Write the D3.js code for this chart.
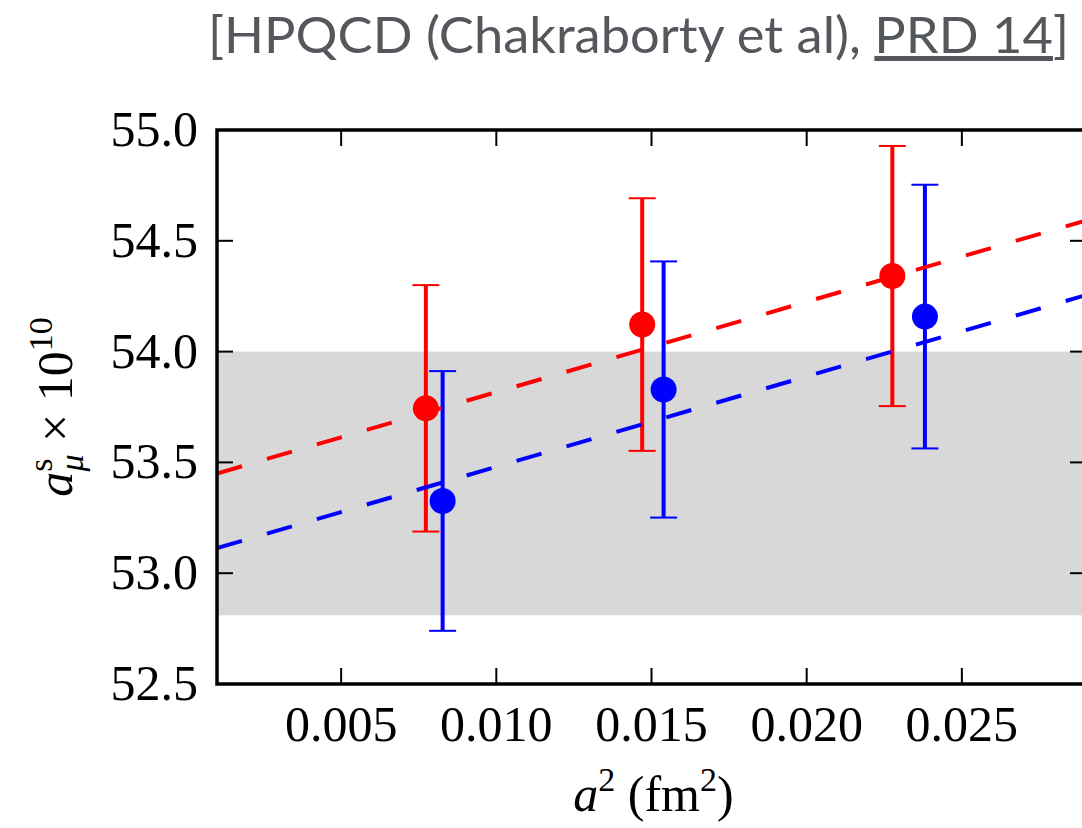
<!DOCTYPE html>
<html>
<head>
<meta charset="utf-8">
<script src="https://cdn.jsdelivr.net/npm/d3@7"></script>
<style>
  html, body { margin: 0; padding: 0; background: #fff; }
  svg { display: block; }
  .tick-label { font-family: "Liberation Serif", "DejaVu Serif", serif; font-size: 50px; fill: #000; }
</style>
</head>
<body>
<div id="chart"></div>
<script>
// ---------------------------------------------------------------------------
// data
// ---------------------------------------------------------------------------
const xTicks = [0.005, 0.010, 0.015, 0.020, 0.025];
const yTicks = [52.5, 53.0, 53.5, 54.0, 54.5, 55.0];

// red series (a2, value, error)
const redA2 = [0.00773, 0.0147, 0.02276];
const redVal = [53.744, 54.122, 54.341];
const redErr = [0.556, 0.570, 0.587];

// blue series
const blueA2 = [0.00827, 0.01539, 0.02381];
const blueVal = [53.326, 53.829, 54.158];
const blueErr = [0.586, 0.578, 0.595];

// dashed fits, endpoints
const redFitA2 = [0.001, 0.029];
const redFitVal = [53.450, 54.592];
const blueFitA2 = [0.001, 0.029];
const blueFitVal = [53.113, 54.255];

// grey band
const bandRange = [52.81, 54.0];

// ---------------------------------------------------------------------------
const width = 1082, height = 828;
const m = { left: 217, right: 1086, top: 130, bottom: 684 };

const svg = d3.select("#chart").append("svg")
    .attr("width", width)
    .attr("height", height);

const x = d3.scaleLinear().domain([0.001, 0.029]).range([m.left, m.right]);
const y = d3.scaleLinear().domain([52.5, 55.0]).range([m.bottom, m.top]);

svg.append("defs").append("clipPath").attr("id", "plot-clip")
    .append("rect")
    .attr("x", m.left).attr("y", m.top)
    .attr("width", m.right - m.left).attr("height", m.bottom - m.top);

const plot = svg.append("g").attr("clip-path", "url(#plot-clip)");

// band
plot.append("rect")
    .attr("x", m.left)
    .attr("width", m.right - m.left)
    .attr("y", y(bandRange[1]))
    .attr("height", y(bandRange[0]) - y(bandRange[1]))
    .attr("fill", "#d8d8d8");

// error bars + points
function drawSeries(a2, val, err, color) {
    const g = plot.append("g");
    const pts = a2.map((d, i) => ({ a: d, v: val[i], e: err[i] }));
    g.selectAll("line.bar").data(pts).join("line")
        .attr("class", "bar")
        .attr("x1", d => x(d.a)).attr("x2", d => x(d.a))
        .attr("y1", d => y(d.v - d.e)).attr("y2", d => y(d.v + d.e))
        .attr("stroke", color).attr("stroke-width", 4);
    ["lo", "hi"].forEach(k => {
        g.selectAll("line.cap-" + k).data(pts).join("line")
            .attr("class", "cap-" + k)
            .attr("x1", d => x(d.a) - 13.5).attr("x2", d => x(d.a) + 13.5)
            .attr("y1", d => y(k === "lo" ? d.v - d.e : d.v + d.e))
            .attr("y2", d => y(k === "lo" ? d.v - d.e : d.v + d.e))
            .attr("stroke", color).attr("stroke-width", 2);
    });
    g.selectAll("circle").data(pts).join("circle")
        .attr("cx", d => x(d.a)).attr("cy", d => y(d.v))
        .attr("r", 13)
        .attr("fill", color);
}
drawSeries(redA2, redVal, redErr, "#ff0000");
drawSeries(blueA2, blueVal, blueErr, "#0000ff");

// dashed fit lines
const line = d3.line().x(d => x(d[0])).y(d => y(d[1]));
[[redFitA2, redFitVal, "#ff0000"], [blueFitA2, blueFitVal, "#0000ff"]].forEach(([xs, ys, c]) => {
    plot.append("path")
        .attr("d", line(xs.map((d, i) => [d, ys[i]])))
        .attr("fill", "none")
        .attr("stroke", c)
        .attr("stroke-width", 4)
        .attr("stroke-dasharray", "26,26");
});

// ticks (inward, on all four sides)
const tickLen = 16;
const ticks = svg.append("g").attr("stroke", "#000").attr("stroke-width", 2);
xTicks.forEach(t => {
    ticks.append("line").attr("x1", x(t)).attr("x2", x(t)).attr("y1", m.bottom).attr("y2", m.bottom - tickLen);
    ticks.append("line").attr("x1", x(t)).attr("x2", x(t)).attr("y1", m.top).attr("y2", m.top + tickLen);
});
yTicks.forEach(t => {
    ticks.append("line").attr("x1", m.left).attr("x2", m.left + tickLen).attr("y1", y(t)).attr("y2", y(t));
    ticks.append("line").attr("x1", m.right).attr("x2", m.right - tickLen).attr("y1", y(t)).attr("y2", y(t));
});

// frame
svg.append("rect")
    .attr("x", m.left).attr("y", m.top)
    .attr("width", m.right - m.left).attr("height", m.bottom - m.top)
    .attr("fill", "none")
    .attr("stroke", "#000")
    .attr("stroke-width", 3.5);

// tick labels
svg.append("g").selectAll("text").data(xTicks).join("text")
    .attr("class", "tick-label")
    .attr("x", d => x(d))
    .attr("y", 741)
    .attr("text-anchor", "middle")
    .text(d => d3.format(".3f")(d));

svg.append("g").selectAll("text").data(yTicks).join("text")
    .attr("class", "tick-label")
    .attr("x", 198)
    .attr("y", d => y(d) + 16)
    .attr("text-anchor", "end")
    .text(d => d3.format(".1f")(d));

// axis titles
const xl = svg.append("text")
    .attr("class", "tick-label")
    .attr("x", (m.left + m.right) / 2 + 2)
    .attr("y", 811)
    .attr("text-anchor", "middle");
xl.append("tspan").attr("font-style", "italic").text("a");
xl.append("tspan").attr("font-size", 34).attr("dy", -20).text("2");
xl.append("tspan").attr("dy", 20).text(" (fm");
xl.append("tspan").attr("font-size", 34).attr("dy", -20).text("2");
xl.append("tspan").attr("dy", 20).text(")");

const yl = svg.append("text")
    .attr("class", "tick-label")
    .attr("transform", `translate(72,${(m.top + m.bottom) / 2}) rotate(-90)`)
    .attr("text-anchor", "middle");
yl.append("tspan").attr("font-style", "italic").text("a");
yl.append("tspan").attr("font-size", 34).attr("dy", -20).text("s");
yl.append("tspan").attr("font-size", 34).attr("font-style", "italic").attr("dx", -13).attr("dy", 31).text("μ");
yl.append("tspan").attr("dy", -11).text(" × 10");
yl.append("tspan").attr("font-size", 34).attr("dy", -20).text("10");

// header
const title = svg.append("text")
    .attr("x", 208)
    .attr("y", 53)
    .attr("font-family", "Lato, 'Open Sans', sans-serif")
    .attr("font-size", 50)
    .attr("fill", "#54585d")
    .attr("textLength", 861)
    .attr("lengthAdjust", "spacingAndGlyphs");
title.append("tspan").text("[HPQCD (Chakraborty et al), ");
title.append("tspan").attr("text-decoration", "underline").text("PRD 14");
title.append("tspan").text("]");
</script>
</body>
</html>
